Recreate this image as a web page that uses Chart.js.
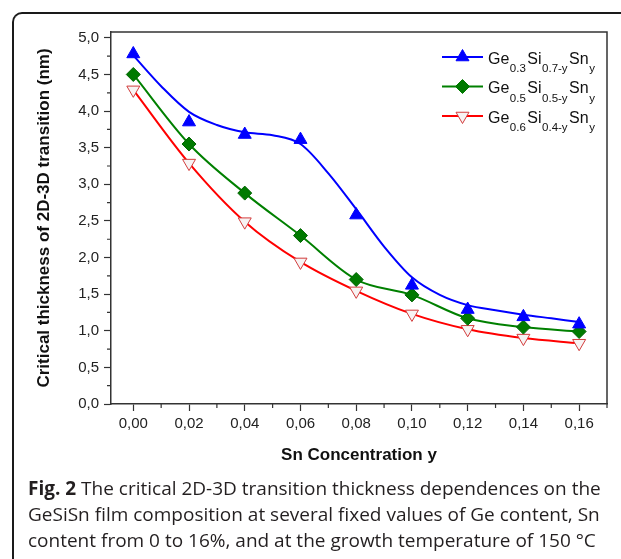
<!DOCTYPE html>
<html>
<head>
<meta charset="utf-8">
<script src="https://cdn.jsdelivr.net/npm/chart.js@4/dist/chart.umd.min.js"></script>
<style>
  html, body { margin: 0; padding: 0; background: #fff; }
  .page { position: relative; width: 621px; height: 559px; overflow: hidden; }
  .frame {
    position: absolute; left: 12px; top: 12px; width: 700px; height: 700px;
    border-left: 2px solid #1a1a1a; border-top: 2px solid #1a1a1a;
    border-top-left-radius: 10px;
  }
  .chart-box { position: absolute; left: 0; top: 0; width: 621px; height: 559px; }
  .caption {
    position: absolute; left: 28px; top: 475px; white-space: nowrap;
    font-family: "Open Sans", sans-serif; font-size: 19px; line-height: 26px; color: #231f20;
  }
  .caption b { font-weight: 700; }
</style>
</head>
<body>
<div class="page">
  <div class="frame"></div>
  <div class="chart-box"><canvas id="myChart"></canvas></div>
  <div class="caption">
    <b>Fig. 2</b> The critical 2D-3D transition thickness dependences on the<br>
    GeSiSn film composition at several fixed values of Ge content, Sn<br>
    content from 0 to 16%, and at the growth temperature of 150 °C
  </div>
</div>
<script>
// Данные
const snConc = [0, 0.02, 0.04, 0.06, 0.08, 0.10, 0.12, 0.14, 0.16];
const ge03 = [4.78, 3.85, 3.68, 3.61, 2.58, 1.62, 1.29, 1.19, 1.09];
const ge05 = [4.50, 3.55, 2.88, 2.30, 1.70, 1.49, 1.17, 1.05, 0.99];
const ge06 = [4.29, 3.29, 2.49, 1.94, 1.545, 1.23, 1.02, 0.90, 0.83];

// аппроксимирующая кривая для Ge0.3 (не проходит через точки)
const snFit = [0, 0.01, 0.02, 0.03, 0.04, 0.05, 0.06, 0.07, 0.08, 0.09, 0.10, 0.11, 0.12, 0.13, 0.14, 0.15, 0.16];
const ge03Fit = [4.76, 4.34, 3.99, 3.81, 3.71, 3.67, 3.55, 3.15, 2.66, 2.15, 1.73, 1.49, 1.35, 1.28, 1.22, 1.17, 1.12];

const xTicks = [0, 0.02, 0.04, 0.06, 0.08, 0.10, 0.12, 0.14, 0.16];
const yTicks = [0, 0.5, 1.0, 1.5, 2.0, 2.5, 3.0, 3.5, 4.0, 4.5, 5.0];

const legendItems = [
  { color: "#0000ff", fill: "#0000ff", style: "triangle", rot: 0, parts: ["Ge", "0.3", "Si", "0.7-y", "Sn", "y"] },
  { color: "#008000", fill: "#007a00", style: "rectRot", rot: 0, parts: ["Ge", "0.5", "Si", "0.5-y", "Sn", "y"] },
  { color: "#ff0000", fill: "#f7f3f3", style: "triangle", rot: 180, parts: ["Ge", "0.6", "Si", "0.4-y", "Sn", "y"] },
];

const toXY = (xs, ys) => xs.map((x, i) => ({ x: x, y: ys[i] }));
const comma = (v, d) => v.toFixed(d).replace(".", ",");

// Рамка, малые деления и легенда
const decor = {
  id: "decor",
  afterDraw(chart) {
    const ctx = chart.ctx;
    const a = chart.chartArea;
    const xs = chart.scales.x;
    const ys = chart.scales.y;
    ctx.save();
    ctx.strokeStyle = "#333";
    ctx.lineWidth = 1.5;
    ctx.beginPath();
    ctx.moveTo(a.left, a.top);
    ctx.lineTo(a.right, a.top);
    ctx.lineTo(a.right, a.bottom);
    ctx.stroke();
    // малые деления
    ctx.lineWidth = 1.2;
    ctx.beginPath();
    for (let i = 0; i < xTicks.length; i++) {
      const v = xTicks[i] + 0.01;
      if (v > xs.max) break;
      const px = xs.getPixelForValue(v);
      ctx.moveTo(px, a.bottom);
      ctx.lineTo(px, a.bottom + 4);
    }
    for (let i = 0; i < yTicks.length - 1; i++) {
      const py = ys.getPixelForValue(yTicks[i] + 0.25);
      ctx.moveTo(a.left, py);
      ctx.lineTo(a.left - 4, py);
    }
    ctx.stroke();

    // легенда
    legendItems.forEach((item, i) => {
      const y = 57 + i * 29.5;
      ctx.strokeStyle = item.color;
      ctx.lineWidth = 2;
      ctx.beginPath();
      ctx.moveTo(442, y);
      ctx.lineTo(483, y);
      ctx.stroke();
      ctx.fillStyle = item.fill;
      ctx.strokeStyle = item.style === "triangle" && item.rot ? "#d23c3c" : item.fill;
      ctx.lineWidth = 1;
      Chart.helpers.drawPoint(ctx, { pointStyle: item.style, rotation: item.rot, radius: item.style === "rectRot" ? 7 : 7.5, borderWidth: 1 }, 462.5, y);
      let x = 488;
      ctx.fillStyle = "#111";
      ctx.textBaseline = "alphabetic";
      item.parts.forEach((p, k) => {
        const sub = k % 2 === 1;
        ctx.font = sub ? "11.5px Arial, 'Liberation Sans'" : "16px Arial, 'Liberation Sans'";
        ctx.fillText(p, x, sub ? y + 15 : y + 6.5);
        x += ctx.measureText(p).width + (sub ? 1.5 : 0.5);
      });
    });
    ctx.restore();
  },
};

const config = {
  type: "line",
  data: {
    datasets: [
      {
        label: "Ge0.3 points",
        data: toXY(snConc, ge03),
        showLine: false,
        pointStyle: "triangle",
        pointRadius: 7.5,
        pointBackgroundColor: "#0000ff",
        pointBorderColor: "#0000ff",
        pointBorderWidth: 1,
        order: 0,
      },
      {
        label: "Ge0.3 fit",
        data: toXY(snFit, ge03Fit),
        borderColor: "#0000ff",
        borderWidth: 2,
        pointRadius: 0,
        cubicInterpolationMode: "monotone",
        order: 3,
      },
      {
        label: "Ge0.5",
        data: toXY(snConc, ge05),
        borderColor: "#008000",
        borderWidth: 2,
        cubicInterpolationMode: "monotone",
        pointStyle: "rectRot",
        pointRadius: 7,
        pointBackgroundColor: "#007a00",
        pointBorderColor: "#006400",
        pointBorderWidth: 1,
        order: 1,
      },
      {
        label: "Ge0.6",
        data: toXY(snConc, ge06),
        borderColor: "#ff0000",
        borderWidth: 2,
        cubicInterpolationMode: "monotone",
        pointStyle: "triangle",
        pointRotation: 180,
        pointRadius: 7.5,
        pointBackgroundColor: "#f7f3f3",
        pointBorderColor: "#d23c3c",
        pointBorderWidth: 1,
        order: 2,
      },
    ],
  },
  options: {
    responsive: true,
    maintainAspectRatio: false,
    animation: false,
    layout: { padding: { left: 0, top: 32, right: 14, bottom: 93 } },
    plugins: {
      legend: { display: false },
      tooltip: { enabled: false },
    },
    scales: {
      x: {
        type: "linear",
        min: -0.008,
        max: 0.17,
        afterFit(scale) { scale.height = 62; },
        ticks: {
          stepSize: 0.02,
          includeBounds: false,
          autoSkip: false,
          maxRotation: 0,
          padding: 4,
          color: "#222",
          font: { family: "Arial, 'Liberation Sans'", size: 15 },
          callback: (v) => comma(v, 2),
        },
        grid: { drawOnChartArea: false, tickLength: 7, tickColor: "#333", tickWidth: 1.2 },
        border: { color: "#333", width: 1.5 },
        title: {
          display: true,
          text: "Sn Concentration y",
          color: "#111",
          font: { family: "Arial, 'Liberation Sans'", size: 17, weight: "bold" },
          padding: 0,
        },
      },
      y: {
        min: 0,
        max: 5.08,
        afterFit(scale) { scale.width = 111; },
        ticks: {
          stepSize: 0.5,
          includeBounds: false,
          padding: 5,
          color: "#222",
          font: { family: "Arial, 'Liberation Sans'", size: 15 },
          callback: (v) => comma(v, 1),
        },
        grid: { drawOnChartArea: false, tickLength: 7, tickColor: "#333", tickWidth: 1.2 },
        border: { color: "#333", width: 1.5 },
        title: {
          display: true,
          text: "Critical thickness of 2D-3D transition (nm)",
          color: "#111",
          font: { family: "Arial, 'Liberation Sans'", size: 17, weight: "bold" },
          padding: { top: 34, bottom: 0 },
        },
      },
    },
  },
  plugins: [decor],
};

const myChart = new Chart(document.getElementById("myChart"), config);
</script>
</body>
</html>
